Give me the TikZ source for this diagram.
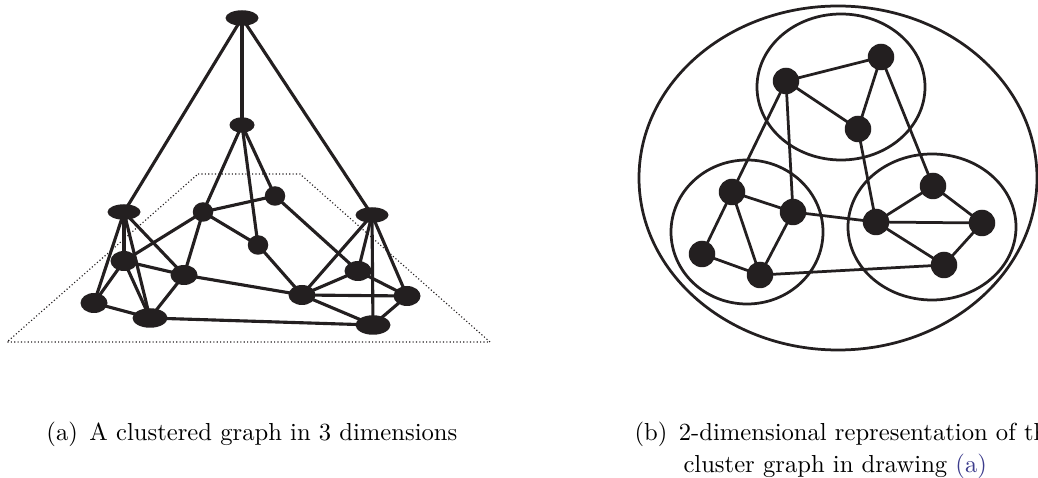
\documentclass[tikz,border=0pt]{standalone}
\usetikzlibrary{shapes.geometric}
\definecolor{ink}{RGB}{35,31,32}
\definecolor{linkblue}{RGB}{60,60,140}
\begin{document}
\begin{tikzpicture}[x=0.4pt,y=-0.4pt,
  vtx/.style={ellipse,fill=ink,draw=none,inner sep=0pt},
  vT/.style={vtx,minimum width=13.2pt,minimum height=6.2pt},
  vM/.style={vtx,minimum width=10pt,minimum height=6.2pt},
  vS/.style={vtx,minimum width=8.2pt,minimum height=7.8pt},
  vD/.style={vtx,minimum width=10.8pt,minimum height=8pt},
  vG/.style={vtx,minimum width=14pt,minimum height=7.8pt},
  dot/.style={circle,fill=ink,draw=none,inner sep=0pt,minimum size=10.6pt},
  edge/.style={draw=ink,line width=1.25pt},
  clus/.style={draw=ink,line width=1.1pt},
  plane/.style={draw=ink,line width=0.45pt,dash pattern=on 0.45pt off 0.9pt},
  captext/.style={inner sep=0pt,anchor=base west,font=\fontsize{9.85pt}{12pt}\selectfont}]
\useasboundingbox (0,0) rectangle (1038,478);
% ---------- (a) 3D clustered graph ----------
\coordinate (p1) at (198,174);
\coordinate (p2) at (300,174);
\coordinate (p3) at (490,342);
\coordinate (p4) at (7,342);
\draw[plane] (p1) -- (p2) -- (p3) -- (p4) -- cycle;
\node[vT] (T) at (242,18) {};
\node[vM] (M) at (242,125) {};
\node[vT] (L) at (124,212) {};
\node[vT] (R) at (372,215) {};
\node[vS] (A) at (203,212) {};
\node[vS] (B) at (275,196) {};
\node[vS] (C) at (258,245) {};
\node[vD] (D) at (124,261) {};
\node[vD] (E) at (184,275) {};
\node[vD] (F) at (94,303) {};
\node[vG] (G) at (150,318) {};
\node[vD] (H) at (302,295) {};
\node[vD] (I) at (358,271) {};
\node[vD] (J) at (407,296) {};
\node[vG] (K) at (373,325) {};
\foreach \u/\v in {T/L,T/M,T/R,M/A,M/C,M/B,A/B,A/C,A/D,A/E,B/I,C/H,
  L/D,L/F,L/G,L/E,D/F,D/G,D/E,E/G,F/G,G/K,E/H,
  R/H,R/I,R/J,R/K,H/I,H/J,H/K,I/J,J/K}
  \draw[edge] (\u.center) -- (\v.center);
% ---------- (b) 2D representation ----------
\node[clus,ellipse,minimum width=159.2pt,minimum height=137.6pt,inner sep=0pt] (outer) at (838,178) {};
\node[clus,ellipse,minimum width=67.2pt,minimum height=58.4pt,inner sep=0pt] (ctop) at (841,87) {};
\node[clus,ellipse,minimum width=60.8pt,minimum height=57.6pt,inner sep=0pt] (cleft) at (747,232) {};
\node[clus,ellipse,minimum width=67.2pt,minimum height=58.4pt,inner sep=0pt] (cright) at (932,227) {};
\node[dot] (a1) at (786,81) {};
\node[dot] (a2) at (881,57) {};
\node[dot] (a3) at (858,129) {};
\node[dot] (b1) at (732,192) {};
\node[dot] (b2) at (793,212) {};
\node[dot] (b3) at (702,254) {};
\node[dot] (b4) at (760,275) {};
\node[dot] (c1) at (933,186) {};
\node[dot] (c2) at (876,222) {};
\node[dot] (c3) at (982,223) {};
\node[dot] (c4) at (944,265) {};
\foreach \u/\v in {a1/a2,a1/a3,a2/a3,a1/b1,a1/b2,a2/c1,a3/c2,
  b1/b2,b1/b3,b1/b4,b2/b4,b3/b4,b2/c2,b4/c4,
  c1/c2,c1/c3,c2/c3,c2/c4,c3/c4}
  \draw[edge,line width=1.1pt] (\u.center) -- (\v.center);
% ---------- captions ----------
\node[captext] (capa) at (46,440) {(a)\hspace{4.6pt}A clustered graph in 3 dimensions};
\node[captext] (capb1) at (634,440) {(b)\hspace{4.6pt}2-dimensional representation of the};
\node[captext] (capb2) at (683,472) {cluster graph in drawing \textcolor{linkblue}{(a)}};
\end{tikzpicture}
\end{document}
